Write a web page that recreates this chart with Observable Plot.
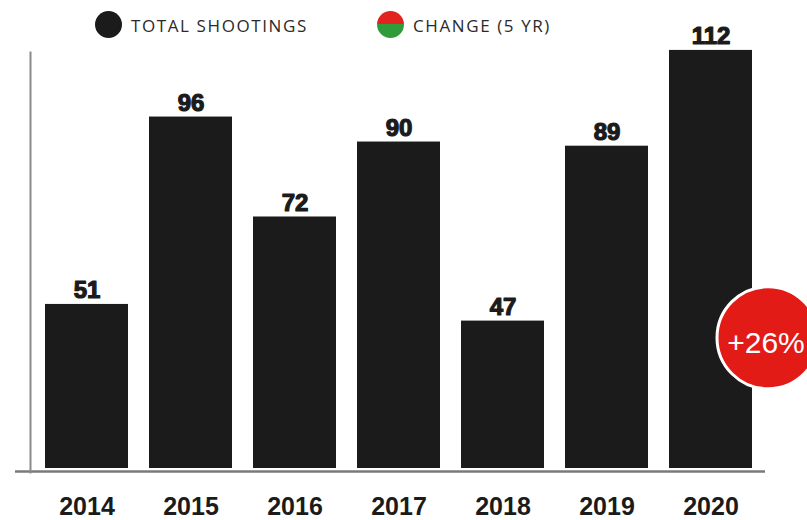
<!DOCTYPE html>
<html><head><meta charset="utf-8">
<script src="https://cdn.jsdelivr.net/npm/d3@7"></script>
<script src="https://cdn.jsdelivr.net/npm/@observablehq/plot@0.6"></script>
<style>
body{margin:0;background:#fff;}
#wrap{position:relative;width:807px;height:520px;overflow:hidden;background:#fff;}
.legend{position:absolute;top:0;left:0;width:807px;height:48px;font-family:"Open Sans","Liberation Sans",sans-serif;z-index:2;}
.item{position:absolute;top:11px;height:27px;display:flex;align-items:center;}
.sw{width:27px;height:27px;border-radius:50%;flex:none;}
.lab{font-size:17px;letter-spacing:1.6px;color:#2a2a2a;margin-left:9px;white-space:nowrap;padding-top:2px;}
</style>
</head><body>
<div id="wrap">
  <div class="legend">
    <div class="item" style="left:95px"><div class="sw" style="background:#1b1b1b"></div><div class="lab">TOTAL SHOOTINGS</div></div>
    <div class="item" style="left:377px"><div class="sw" style="background:linear-gradient(to bottom,#e3231f 0%,#e3231f 50%,#2f9b3b 50%,#2f9b3b 100%)"></div><div class="lab">CHANGE (5 YR)</div></div>
  </div>
  <div id="chart"></div>
</div>
<script>
const years = ["2014", "2015", "2016", "2017", "2018", "2019", "2020"];
const shootings = [51, 96, 72, 90, 47, 89, 112];
const axisMin = 11.6;
const axisMax = 111.5;
const changeYear = ["2020"];
const changeLabel = ["+26%"];
const changeLevel = [43];

const data = years.map((y, i) => ({year: y, value: shootings[i]}));
const badge = changeYear.map((y, i) => ({year: y, level: changeLevel[i], label: changeLabel[i]}));

const chart = Plot.plot({
  width: 807,
  height: 520,
  marginTop: 52,
  marginBottom: 52,
  marginLeft: 34,
  marginRight: 43,
  style: {background: "transparent", overflow: "hidden"},
  x: {domain: years, paddingInner: 0.2, paddingOuter: 0.1, align: 0.5},
  y: {domain: [axisMin, axisMax], axis: null},
  marks: [
    Plot.ruleY([axisMin], {stroke: "#7a7a7a", strokeWidth: 2.5, insetLeft: -19, insetRight: -1, dy: 3}),
    Plot.frame({anchor: "left", stroke: "#8a8a8a", strokeWidth: 2, dx: -4, insetBottom: -4}),
    Plot.barY(data, {x: "year", y1: axisMin, y2: "value", fill: "#1b1b1b"}),
    Plot.text(data, {x: "year", y: "value", text: d => String(d.value), lineAnchor: "bottom", dy: -6,
      fontSize: 24, fontWeight: "bold", fontFamily: "Liberation Sans Narrow, Liberation Sans, sans-serif",
      fill: "#1b1b1b", stroke: "#1b1b1b", strokeWidth: 1.2}),
    Plot.axisX({tickSize: 0, tickPadding: 29, fontSize: 25, fontWeight: "bold",
      fontFamily: "Liberation Sans Narrow, Liberation Sans, sans-serif", fill: "#1b1b1b",
      stroke: "#1b1b1b", strokeWidth: 1.2, label: null}),
    Plot.dot(badge, {x: "year", y: "level", r: 51, dx: 57, fill: "#e31b17", stroke: "#ffffff", strokeWidth: 3}),
    Plot.text(badge, {x: "year", y: "level", text: "label", dx: 55, dy: 6, fill: "#ffffff",
      fontSize: 30, fontFamily: "Liberation Sans, sans-serif"})
  ]
});
document.getElementById("chart").appendChild(chart);
</script>
</body></html>
